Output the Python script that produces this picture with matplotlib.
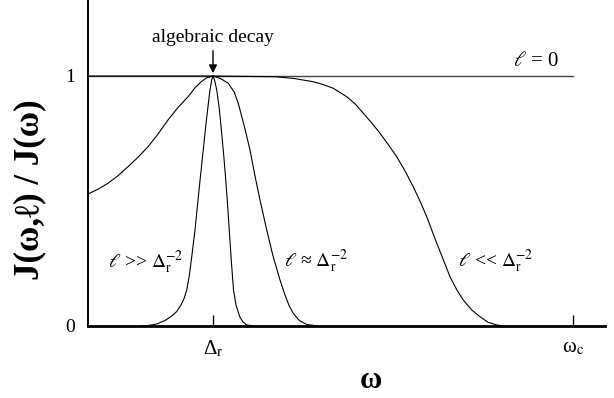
import matplotlib
matplotlib.use('Agg')
import matplotlib.pyplot as plt

plt.rcParams['font.family'] = ['Liberation Serif', 'DejaVu Serif']
plt.rcParams['mathtext.fontset'] = 'stix'

# omega in units of Delta_r
delta_r = 1.0
omega_c = 3.88

# l = 0 : flat line up to omega_c
w_flat = [0.0, omega_c]
j_flat = [1.0, 1.0]

# l >> Delta_r^-2 : narrow peak at Delta_r
w_narrow = [0.416, 0.48, 0.55, 0.616, 0.67, 0.71, 0.745, 0.77, 0.79, 0.81, 0.83, 0.856, 0.88,
            0.902, 0.922, 0.94, 0.958, 0.976, 0.99, 1.0,
            1.012, 1.03, 1.05, 1.066, 1.082, 1.098, 1.114, 1.13, 1.146, 1.164, 1.184, 1.214,
            1.24, 1.27, 1.336]
j_narrow = [0.0, 0.002, 0.008, 0.022, 0.04, 0.058, 0.085, 0.112, 0.144, 0.2, 0.277, 0.384, 0.504,
            0.61, 0.704, 0.79, 0.87, 0.944, 0.985, 1.0,
            0.985, 0.944, 0.87, 0.79, 0.704, 0.61, 0.504, 0.384, 0.264, 0.144, 0.084, 0.037,
            0.016, 0.004, 0.0]

# l ~ Delta_r^-2 : broad rise from the left, falls off after Delta_r
w_mid = [0.0, 0.08, 0.16, 0.24, 0.32, 0.4, 0.48, 0.56, 0.64, 0.72, 0.8, 0.86, 0.906, 0.95, 1.0,
         1.06, 1.122, 1.17, 1.202, 1.25, 1.296, 1.336, 1.376, 1.43, 1.48, 1.536, 1.575, 1.61,
         1.642, 1.69, 1.75, 1.84]
j_mid = [0.528, 0.547, 0.571, 0.601, 0.637, 0.675, 0.717, 0.768, 0.824, 0.874, 0.917, 0.955,
         0.977, 0.993, 1.0,
         0.99, 0.971, 0.935, 0.891, 0.80, 0.704, 0.60, 0.504, 0.384, 0.28, 0.184, 0.125, 0.08,
         0.051, 0.022, 0.006, 0.0]

# l << Delta_r^-2 : stays near 1, decays well before omega_c
w_small = [0.0, 1.0, 1.5, 1.65, 1.802, 1.88, 1.962, 2.07, 2.14, 2.202, 2.27, 2.336, 2.40, 2.47,
           2.54, 2.602, 2.66, 2.71, 2.75, 2.79, 2.845, 2.896, 2.95, 3.002, 3.07, 3.136, 3.2,
           3.27, 3.33]
j_small = [1.0, 1.0, 0.997, 0.99, 0.977, 0.966, 0.951, 0.917, 0.887, 0.851, 0.812, 0.771, 0.727,
           0.677, 0.617, 0.557, 0.495, 0.437, 0.384, 0.331, 0.262, 0.197, 0.145, 0.104, 0.064,
           0.037, 0.015, 0.004, 0.0]

fig = plt.figure(figsize=(6.14, 3.98), dpi=100)
ax = fig.add_axes([88/614, 72/398, 517/614, 326/398])

ax.plot(w_flat, j_flat, color='#444444', lw=1.0)
ax.plot(w_narrow, j_narrow, color='black', lw=0.8)
ax.plot(w_mid, j_mid, color='black', lw=0.8)
ax.plot(w_small, j_small, color='black', lw=0.8)

ax.set_xlim(0, 517/125)
ax.set_ylim(0, 326/250)

ax.spines['top'].set_visible(False)
ax.spines['right'].set_visible(False)
ax.spines['left'].set_linewidth(1.4)
ax.spines['bottom'].set_linewidth(2.0)

ax.set_xticks([delta_r, omega_c])
ax.set_xticklabels([r'Δ$_\mathrm{r}$', r'ω$_\mathrm{c}$'], fontsize=15)
ax.set_yticks([0, 1])
ax.set_yticklabels(['0', '1'], fontsize=14)
ax.tick_params(axis='x', direction='in', length=8, width=1.0, pad=9)
ax.tick_params(axis='y', direction='in', length=0, pad=9)

# curve labels
ax.text(0.16, 0.232, r'$\ell$ >> $\Delta_\mathrm{r}^{-2}$', fontsize=14, va='baseline')
ax.text(1.568, 0.237, r'$\ell$ ≈ $\Delta_\mathrm{r}^{-2}$', fontsize=14, va='baseline')
ax.text(2.96, 0.236, r'$\ell$ << $\Delta_\mathrm{r}^{-2}$', fontsize=14, va='baseline')
ax.text(3.4, 1.04, r'$\ell$ = 0', fontsize=15, va='baseline')

ax.text(1.0, 1.136, 'algebraic decay', fontsize=14, ha='center', va='baseline')
ax.annotate('', xy=(1.0, 1.0), xytext=(1.0, 1.112),
            arrowprops=dict(arrowstyle='-|>', color='black', lw=1.0, mutation_scale=12))

fig.text(371/614, 10/398, 'ω', fontsize=22, fontweight='bold', ha='center', va='baseline')
fig.text(30/614, 208/398, 'J(ω,ℓ) / J(ω)', fontsize=25, fontweight='bold',
         rotation=90, ha='center', va='center')

fig.savefig('out.png', dpi=100)
